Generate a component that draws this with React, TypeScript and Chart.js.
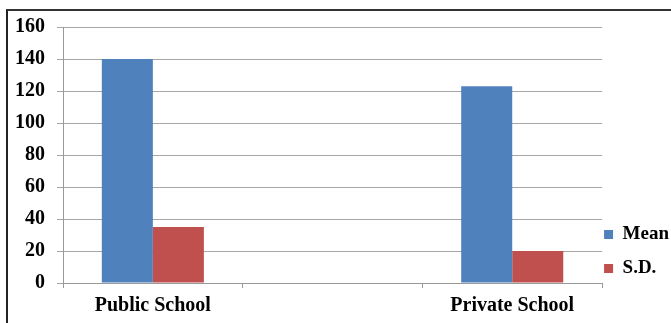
import React, { useEffect, useRef } from "react";
import { Chart, registerables } from "chart.js";

Chart.register(...registerables);

const categories = ["Public School", "", "Private School"];
const meanValues = [140, null, 123];
const sdValues = [35, null, 20];
const seriesNames = ["Mean", "S.D."];

const legendPlace = {
  id: "legendPlace",
  afterLayout(chart: any) {
    const lg = chart.legend;
    if (!lg) return;
    const w = lg.right - lg.left;
    const h = lg.bottom - lg.top;
    lg.left = chart.chartArea.right - 13;
    lg.right = lg.left + w;
    lg.bottom = 293;
    lg.top = lg.bottom - h;
  },
};

export default function App() {
  const ref = useRef<HTMLCanvasElement | null>(null);

  useEffect(() => {
    if (!ref.current) return;
    const family = "'Liberation Serif', 'Times New Roman', serif";
    const font = { family, size: 20, weight: "bold" as const };
    const legendFont = { family, size: 19, weight: "bold" as const };
    const chart = new Chart(ref.current, {
      type: "bar",
      data: {
        labels: categories,
        datasets: [
          {
            label: seriesNames[0],
            data: meanValues,
            backgroundColor: "#4F81BD",
            borderWidth: 0,
          },
          {
            label: seriesNames[1],
            data: sdValues,
            backgroundColor: "#C0504D",
            borderWidth: 0,
          },
        ],
      },
      plugins: [legendPlace],
      options: {
        animation: false,
        responsive: false,
        maintainAspectRatio: false,
        layout: { padding: { left: 3, top: 27, right: -21, bottom: -1 } },
        datasets: { bar: { categoryPercentage: 0.568, barPercentage: 1 } },
        plugins: {
          tooltip: { enabled: false },
          legend: {
            position: "right",
            align: "end",
            labels: {
              boxWidth: 9,
              boxHeight: 9,
              padding: 15,
              color: "#000",
              font: legendFont,
            },
          },
        },
        scales: {
          x: {
            grid: {
              offset: true,
              drawOnChartArea: false,
              drawTicks: true,
              tickLength: 5,
              color: "#999",
            },
            border: { display: true, color: "#999" },
            ticks: { color: "#000", font, padding: 6, maxRotation: 0 },
          },
          y: {
            min: 0,
            max: 160,
            ticks: { stepSize: 20, color: "#000", font, padding: 12 },
            grid: { color: "#A6A6A6", tickLength: 6 },
            border: { display: true, color: "#999" },
          },
        },
      },
    });
    return () => chart.destroy();
  }, []);

  return (
    <div style={{ position: "fixed", left: 0, top: 0, width: 671, height: 323, overflow: "hidden", background: "#fff" }}>
      <div
        style={{
          position: "absolute",
          left: 6,
          top: 9,
          width: 700,
          height: 400,
          borderLeft: "2px solid #222",
          borderTop: "2px solid #333",
        }}
      />
      <canvas ref={ref} width={671} height={323} style={{ position: "absolute", left: 0, top: 0, width: 671, height: 323 }} />
    </div>
  );
}
